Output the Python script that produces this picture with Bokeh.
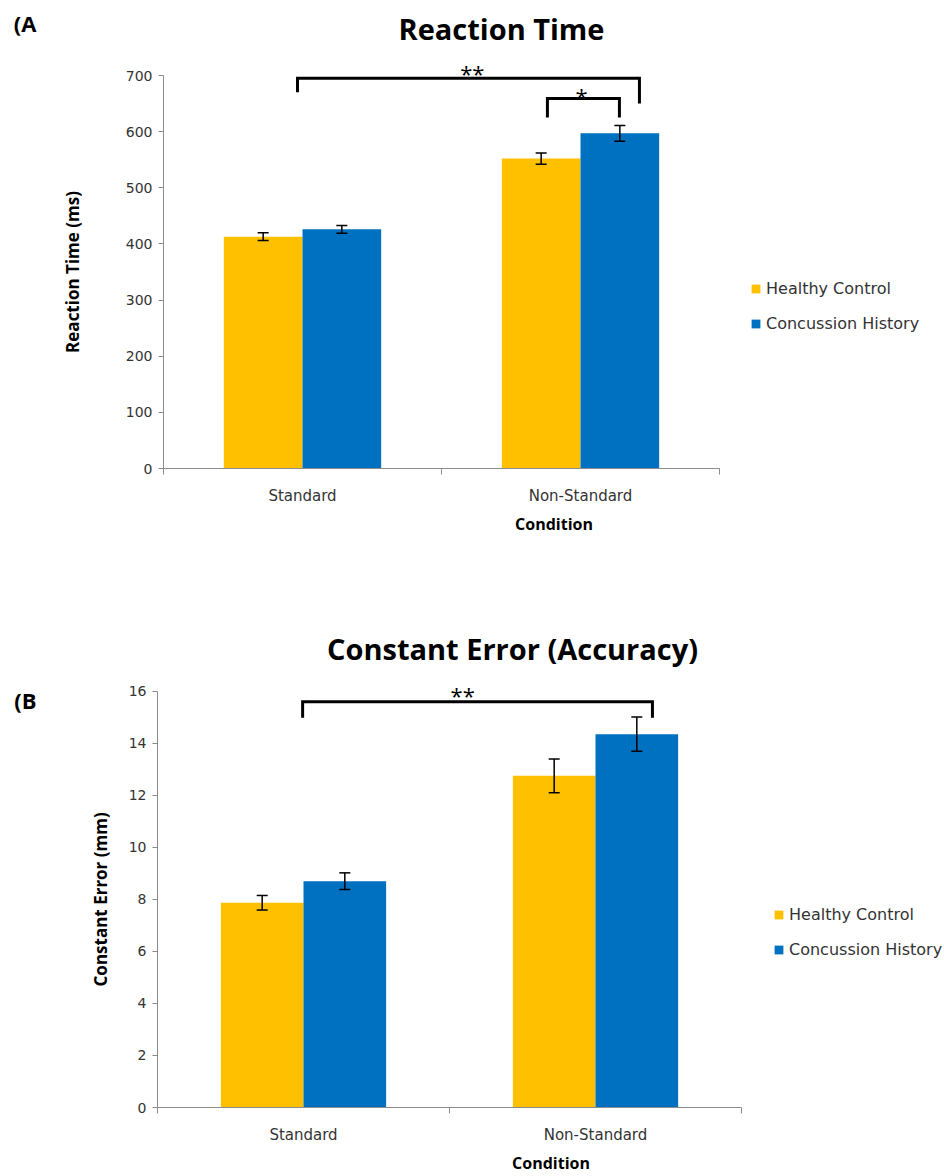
from bokeh.plotting import figure
from bokeh.models import (Range1d, FixedTicker, Whisker, TeeHead, ColumnDataSource,
                          Label, Legend, LegendItem, LinearAxis)
from bokeh.layouts import column
from bokeh.embed import file_html
from bokeh.resources import INLINE

# ---------------- data ----------------
conditions = ["Standard", "Non-Standard"]
groups = ["Healthy Control", "Concussion History"]

rt_healthy = [413, 552]
rt_healthy_err = [7, 10]
rt_concussion = [426, 597]
rt_concussion_err = [7, 14]
rt_ticks = [0, 100, 200, 300, 400, 500, 600, 700]

ce_healthy = [7.87, 12.75]
ce_healthy_err = [0.28, 0.65]
ce_concussion = [8.70, 14.35]
ce_concussion_err = [0.32, 0.66]
ce_ticks = [0, 2, 4, 6, 8, 10, 12, 14, 16]

# significance brackets: x_left, x_right, y_top, y_left_end, y_right_end, label, label_x, label_y
rt_brackets = [
    (0.482, 1.712, 695, 670, 650, "**", 1.111, 705),
    (1.381, 1.640, 659, 625, 625, "*", 1.504, 664),
]
ce_brackets = [
    (0.497, 1.695, 15.6, 14.98, 14.98, "**", 1.045, 15.87),
]

ORANGE = "#FFC000"
BLUE = "#0070C0"
AXIS = "#8c8c8c"
TICK_FONT = "DejaVu Sans"
BOLD_FONT = "Open Sans"


def make_panel(title, panel_tag, ylabel, hc, hc_err, ch, ch_err, ticks, brackets,
               height, frame_left, cat_px, frame_bottom, px_per_unit,
               title_xy, tag_y_px, legend_xy, ylabel_standoff, tag_standoff):
    x_end = (944 - frame_left) / cat_px
    y_end = frame_bottom / px_per_unit
    p = figure(width=944, height=height, x_range=Range1d(0, x_end), y_range=Range1d(0, y_end),
               output_backend="svg", toolbar_location=None,
               min_border_left=frame_left, min_border_right=0,
               min_border_top=0, min_border_bottom=height - frame_bottom)
    p.frame_align = False
    p.outline_line_color = None
    p.xgrid.visible = False
    p.ygrid.visible = False

    bw = 0.283
    centers = [i + 0.5 for i in range(len(conditions))]
    x_hc = [c - bw / 2 for c in centers]
    x_ch = [c + bw / 2 for c in centers]
    r1 = p.vbar(x=x_hc, top=hc, width=bw, fill_color=ORANGE, line_color=None)
    r2 = p.vbar(x=x_ch, top=ch, width=bw, fill_color=BLUE, line_color=None)

    for xs, vals, errs in ((x_hc, hc, hc_err), (x_ch, ch, ch_err)):
        src = ColumnDataSource(dict(x=xs, upper=[v + e for v, e in zip(vals, errs)],
                                   lower=[v - e for v, e in zip(vals, errs)]))
        w = Whisker(base="x", upper="upper", lower="lower", source=src, dimension="height",
                    line_color="black", line_width=1.5, level="overlay",
                    upper_head=TeeHead(size=11, line_color="black", line_width=1.5),
                    lower_head=TeeHead(size=11, line_color="black", line_width=1.5))
        p.add_layout(w)

    bxs, bys = [], []
    for (xl, xr, yt, yl, yr, lab, lx, ly) in brackets:
        bxs.append([xl, xl, xr, xr])
        bys.append([yl, yt, yt, yr])
        p.add_layout(Label(x=lx, y=ly, text=lab, text_align="center", text_baseline="middle",
                           text_font=BOLD_FONT, text_font_size="22px", text_color="black"))
    p.multi_line(bxs, bys, line_color="black", line_width=3, line_join="miter")

    # value axis
    yax = p.yaxis[0]
    yax.ticker = FixedTicker(ticks=ticks)
    yax.bounds = (0, ticks[-1])
    yax.axis_line_color = AXIS
    yax.major_tick_line_color = AXIS
    yax.major_tick_in = 0
    yax.major_tick_out = 5
    yax.minor_tick_line_color = None
    yax.major_label_text_font = TICK_FONT
    yax.major_label_text_font_size = "14px"
    yax.major_label_text_color = "#333333"
    yax.major_label_standoff = 6

    # axis title, centred on the value axis extent
    mid = ticks[-1] / 2
    lab_axis = LinearAxis(ticker=FixedTicker(ticks=[mid]), major_label_overrides={mid: ylabel})
    lab_axis.major_label_orientation = "parallel"
    lab_axis.axis_line_color = None
    lab_axis.major_tick_line_color = None
    lab_axis.minor_tick_line_color = None
    lab_axis.major_tick_out = 0
    lab_axis.major_tick_in = 0
    lab_axis.major_label_text_font = BOLD_FONT
    lab_axis.major_label_text_font_style = "bold"
    lab_axis.major_label_text_font_size = "17px"
    lab_axis.major_label_text_color = "black"
    lab_axis.major_label_standoff = ylabel_standoff
    p.add_layout(lab_axis, "left")

    # panel tag "(A" / "(B"
    tag_val = (frame_bottom - tag_y_px) / px_per_unit
    tag_axis = LinearAxis(ticker=FixedTicker(ticks=[tag_val]), major_label_overrides={tag_val: panel_tag})
    tag_axis.axis_line_color = None
    tag_axis.major_tick_line_color = None
    tag_axis.minor_tick_line_color = None
    tag_axis.major_tick_out = 0
    tag_axis.major_tick_in = 0
    tag_axis.major_label_text_font = BOLD_FONT
    tag_axis.major_label_text_font_style = "bold"
    tag_axis.major_label_text_font_size = "22px"
    tag_axis.major_label_text_color = "black"
    tag_axis.major_label_standoff = tag_standoff
    p.add_layout(tag_axis, "left")

    # category axis
    xax = p.xaxis[0]
    xax.ticker = FixedTicker(ticks=centers, minor_ticks=list(range(len(conditions) + 1)))
    xax.bounds = (0, len(conditions))
    xax.major_label_overrides = {c: n for c, n in zip(centers, conditions)}
    xax.axis_line_color = AXIS
    xax.major_tick_line_color = None
    xax.major_tick_in = 0
    xax.major_tick_out = 0
    xax.minor_tick_line_color = AXIS
    xax.minor_tick_in = 0
    xax.minor_tick_out = 6
    xax.major_label_text_font = TICK_FONT
    xax.major_label_text_font_size = "15px"
    xax.major_label_text_color = "#333333"
    xax.major_label_standoff = 12
    xax.axis_label = "Condition"
    xax.axis_label_text_font = BOLD_FONT
    xax.axis_label_text_font_style = "bold"
    xax.axis_label_text_font_size = "16px"
    xax.axis_label_text_color = "black"
    xax.axis_label_standoff = 5

    legend = Legend(items=[LegendItem(label=groups[0], renderers=[r1]),
                           LegendItem(label=groups[1], renderers=[r2])],
                    location=legend_xy)
    legend.border_line_color = None
    legend.background_fill_alpha = 0
    legend.glyph_width = 11
    legend.glyph_height = 11
    legend.label_standoff = 5
    legend.spacing = 15
    legend.padding = 0
    legend.margin = 0
    legend.label_height = 20
    legend.label_text_font = TICK_FONT
    legend.label_text_font_size = "16px"
    legend.label_text_color = "#333333"
    p.add_layout(legend)

    p.add_layout(Label(x=title_xy[0], y=title_xy[1], x_units="canvas", y_units="canvas",
                       text=title, text_align="center", text_baseline="middle",
                       text_font=BOLD_FONT, text_font_style="bold", text_font_size="29px",
                       text_color="black"))
    return p


p1 = make_panel("Reaction Time", "(A", "Reaction Time (ms)",
                rt_healthy, rt_healthy_err, rt_concussion, rt_concussion_err, rt_ticks, rt_brackets,
                height=560, frame_left=163, cat_px=278, frame_bottom=468, px_per_unit=393 / 700,
                title_xy=(501, 28), tag_y_px=22, legend_xy=(587, 135),
                ylabel_standoff=39, tag_standoff=21)
p2 = make_panel("Constant Error (Accuracy)", "(B", "Constant Error (mm)",
                ce_healthy, ce_healthy_err, ce_concussion, ce_concussion_err, ce_ticks, ce_brackets,
                height=616, frame_left=157, cat_px=292, frame_bottom=548, px_per_unit=417 / 16,
                title_xy=(512, 88), tag_y_px=140, legend_xy=(616, 148),
                ylabel_standoff=13, tag_standoff=50)

layout = column(p1, p2, spacing=0)
open("out.html", "w").write(file_html(layout, INLINE))
